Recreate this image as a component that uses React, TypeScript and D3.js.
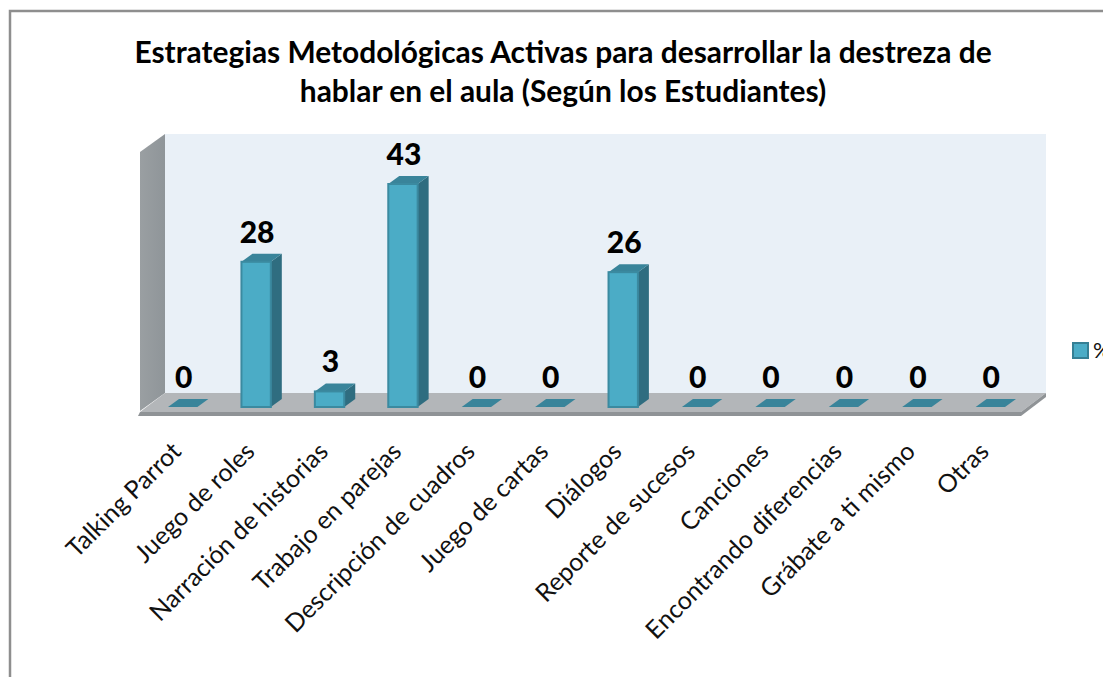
import React from "react";
import * as d3 from "d3";

const categories = ["Talking Parrot","Juego de roles","Narración de historias","Trabajo en parejas","Descripción de cuadros","Juego de cartas","Diálogos","Reporte de sucesos","Canciones","Encontrando diferencias","Grábate a ti mismo","Otras"];
const values = [0,28,3,43,0,0,26,0,0,0,0,0];
const titleLines = ["Estrategias Metodológicas Activas para desarrollar la destreza de","hablar en el aula (Según los Estudiantes)"];
const seriesName = "%";

const W = 1103, H = 677;
const font = "Lato, Carlito, 'Open Sans', sans-serif";
const x = d3.scaleBand<number>().domain(d3.range(categories.length)).range([146, 1027]).paddingInner(0.6).paddingOuter(0.3);
const y = d3.scaleLinear().domain([0, 43]).range([407, 184]);
const DX = 11, DY = 8;
const pts = (a: number[][]) => a.map(p => p.join(",")).join(" ");

export default function App() {
  const bw = x.bandwidth();
  return (
    <svg width={W} height={H} viewBox={`0 0 ${W} ${H}`} style={{ position: "fixed", left: 0, top: 0, background: "#fff" }} fontFamily={font}>
      <defs>
        <linearGradient id="wall" x1="0" x2="1" y1="0" y2="0">
          <stop offset="0" stopColor="#9a9fa2" /><stop offset="1" stopColor="#8f9599" />
        </linearGradient>
      </defs>
      <path d={`M10 677V11H${W}`} fill="none" stroke="#8e8e8e" strokeWidth={2.5} />
      {titleLines.map((t, i) => (
        <text key={i} x={563} y={63 + i * 39} textAnchor="middle" fontSize={29.9} fontWeight={700} fill="#000">{t}</text>
      ))}
      <rect x={165} y={134} width={881} height={259} fill="#e9f0f7" />
      <polygon points={pts([[140,152],[165,134],[165,393],[140,411]])} fill="url(#wall)" />
      <polygon points={pts([[165,393],[1046,393],[1021,412],[140,412]])} fill="#b3b6b9" />
      <polygon points={pts([[140,412],[1021,412],[1021,416],[138,416]])} fill="#8f9396" />
      <polygon points={pts([[1021,412],[1046,393],[1046,397],[1021,416]])} fill="#8f9396" />
      {values.map((v, i) => {
        const x0 = x(i)!, x1 = x0 + bw, yt = y(v), yb = y(0);
        return (
          <g key={i}>
            <polygon points={pts([[x1,yt],[x1+DX,yt-DY],[x1+DX,yb-DY],[x1,yb]])} fill="#2f6d80" />
            <polygon points={pts([[x0,yt],[x0+DX,yt-DY],[x1+DX,yt-DY],[x1,yt]])} fill="#39849a" />
            {v > 0 && <rect x={x0} y={yt} width={bw} height={yb - yt} fill="#4bacc6" stroke="#3b8aa0" strokeWidth={2} />}
            <text x={x0 + bw / 2 + 1} y={yt - 19} textAnchor="middle" fontSize={30} fontWeight={900} fill="#000">{v}</text>
          </g>
        );
      })}
      {categories.map((c, i) => {
        const tx = x(i)! + bw / 2, ty = 453;
        return <text key={c} transform={`translate(${tx},${ty}) rotate(-45)`} textAnchor="end" fontSize={25} fill="#111">{c}</text>;
      })}
      <rect x={1073} y={343} width={15} height={15} fill="#4bacc6" stroke="#357f94" strokeWidth={2} />
      <text x={1093} y={358} fontSize={22} fill="#111">{seriesName}</text>
    </svg>
  );
}
